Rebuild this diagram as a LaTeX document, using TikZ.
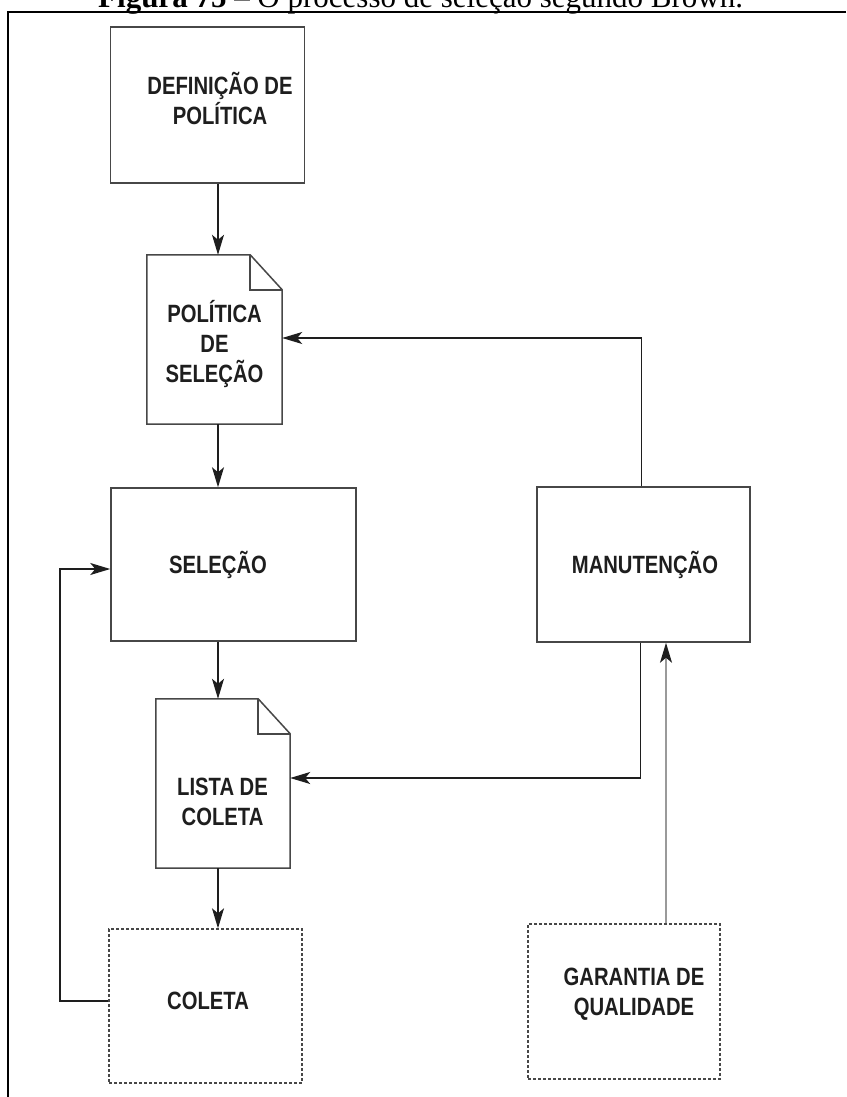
\documentclass[tikz,border=0pt]{standalone}
\usepackage{fontspec}
\setmainfont{Liberation Serif}
\newfontfamily\boxfont{Liberation Sans}[FakeStretch=0.81]
\usetikzlibrary{arrows.meta}

\definecolor{edgegray}{HTML}{474747}
\definecolor{inkdark}{HTML}{1E1E1E}
\definecolor{feedgray}{HTML}{9A9A9A}

\tikzset{
  boxshape/.style={draw=edgegray, line width=1.5pt, inner sep=0pt},
  dashbox/.style={draw=edgegray, line width=1.4pt, dash pattern=on 3pt off 2pt, inner sep=0pt},
  docnode/.style={inner sep=0pt},
  docline/.style={draw=edgegray, line width=1.5pt, line join=miter},
  lbl/.style={font=\boxfont\bfseries\fontsize{25}{30}\selectfont, text=inkdark, align=center, inner sep=0pt},
  flow/.style={draw=inkdark, line width=1.4pt, -{Stealth[length=20pt,width=12pt,inset=5pt]}},
  feed/.style={draw=feedgray, line width=1.5pt, -{Stealth[length=20pt,width=12pt,inset=5pt,color=inkdark]}},
  framel/.style={draw=black, line width=1.5pt},
}

% outline of a sheet with a folded top-right corner
\newcommand{\foldeddoc}[1]{%
  \draw[docline] (#1.north west) -- ([xshift=-32pt]#1.north east)
    -- ([yshift=-35pt]#1.north east) -- (#1.south east)
    -- (#1.south west) -- cycle;
  \draw[docline] ([xshift=-32pt]#1.north east) |- ([yshift=-35pt]#1.north east);
}

\begin{document}
\begin{tikzpicture}[x=1pt,y=-1pt]
  \clip (0,0) rectangle (846,1097);
  \fill[white] (0,0) rectangle (846,1097);

  % caption (top of the page cuts it)
  \node[anchor=base west, font=\fontsize{31}{35}\selectfont, inner sep=0pt] (caption) at (98,8)
    {\textbf{Figura 75} – O processo de seleção segundo Brown.};

  % frame
  \draw[framel] (846,12) -| (8,1097);

  % shapes
  \node[boxshape, minimum width=194pt, minimum height=156pt] (def) at (207.5,105) {};
  \node[docnode, minimum width=135pt, minimum height=169pt] (pol) at (214.5,339.5) {};
  \foldeddoc{pol}
  \node[boxshape, minimum width=245pt, minimum height=153pt] (sel) at (233.5,564.5) {};
  \node[boxshape, minimum width=213pt, minimum height=155pt] (man) at (643.5,564.5) {};
  \node[docnode, minimum width=134pt, minimum height=169pt] (lista) at (223,783.5) {};
  \foldeddoc{lista}
  \node[dashbox, minimum width=193pt, minimum height=154pt] (col) at (205.5,1006) {};
  \node[dashbox, minimum width=192pt, minimum height=155pt] (gar) at (624,1001.5) {};

  % labels
  \node[lbl] (deftxt) at (220,98) {DEFINIÇÃO DE\\POLÍTICA};
  \node[lbl] (poltxt) at (214.5,344) {POLÍTICA\\DE\\SELEÇÃO};
  \node[lbl] (seltxt) at (218,565) {SELEÇÃO};
  \node[lbl] (mantxt) at (645,565) {MANUTENÇÃO};
  \node[lbl] (listxt) at (222.5,801.5) {LISTA DE\\COLETA};
  \node[lbl] (coltxt) at (208,1001) {COLETA};
  \node[lbl] (gartxt) at (634,994) {GARANTIA DE\\QUALIDADE};

  % connectors
  \coordinate (spine) at (218,0);
  \coordinate (loop) at (60,0);
  \draw[flow] (spine |- def.south) -- (spine |- pol.north);
  \draw[flow] (spine |- pol.south) -- (spine |- sel.north);
  \draw[flow] (spine |- sel.south) -- (spine |- lista.north);
  \draw[flow] (spine |- lista.south) -- (spine |- col.north);
  \draw[flow] ([xshift=-2pt]man.north) |- ([yshift=1.5pt]pol.east);
  \draw[flow] ([xshift=-3pt]man.south) |- ([yshift=5.5pt]lista.east);
  \draw[feed] ([xshift=42pt]gar.north) -- ([xshift=42pt]gar.north |- man.south);
  \draw[flow] ([yshift=5pt]col.west) coordinate (c1) -- (c1 -| loop) |- ([yshift=-4.5pt]sel.west);
\end{tikzpicture}
\end{document}
